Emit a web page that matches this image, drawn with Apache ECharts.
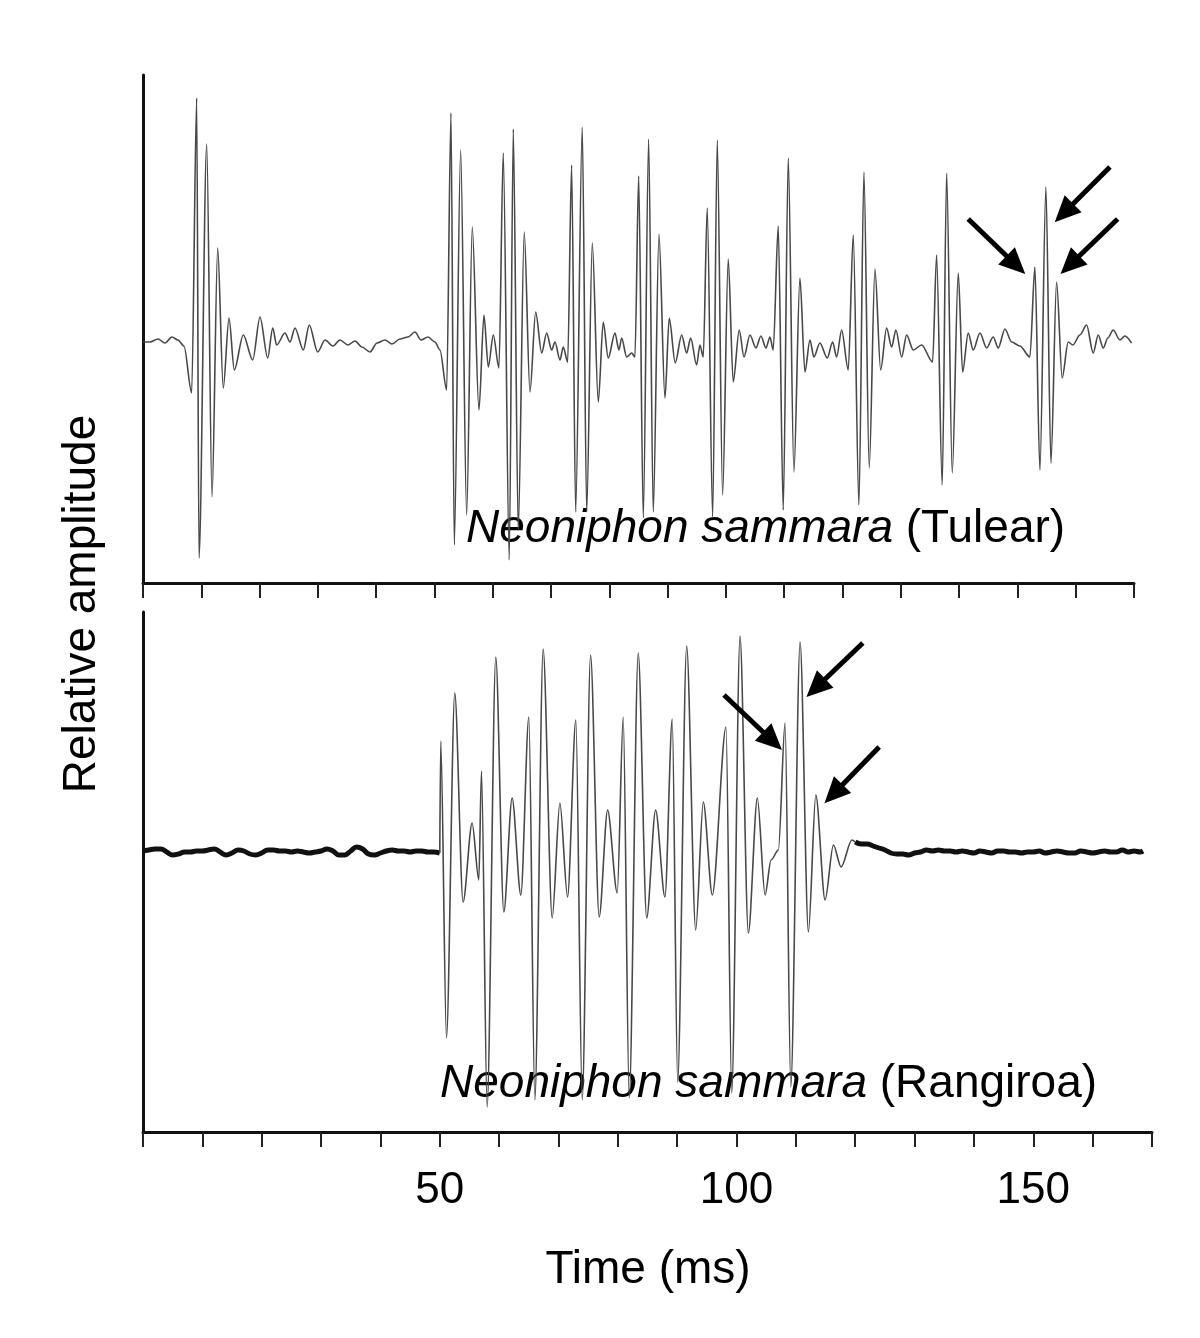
<!DOCTYPE html>
<html>
<head>
<meta charset="utf-8">
<script src="https://cdn.jsdelivr.net/npm/echarts@6/dist/echarts.min.js"></script>
<style>
html,body{margin:0;padding:0;background:#fff;}
#chart{width:1200px;height:1338px;}
</style>
</head>
<body>
<div id="chart"></div>
<script>
// ---------- DATA ----------
// Panel 1: Neoniphon sammara (Tulear) – time (ms) and relative amplitude of waveform extrema
const tulearTime = [0.0,1.2,2.57,3.77,4.97,6.0,7.03,8.35,9.21,9.61,10.93,11.84,12.81,13.77,14.75,15.66,17.2,18.82,20.07,21.39,22.25,22.93,24.36,25.21,26.07,27.5,28.52,29.97,
  31.22,32.59,33.79,35.16,36.36,37.56,38.94,40.14,41.51,42.71,44.08,45.45,46.66,47.68,48.89,50.09,50.94,
  52.09,52.83,53.4,54.49,55.52,56.48,57.63,58.49,59.23,60.09,61.06,
  61.8,62.83,63.52,64.37,65.4,66.38,67.36,68.39,69.25,70.1,70.67,71.53,72.09,72.85,
  73.53,74.22,75.35,76.11,77.07,78.1,78.95,79.81,80.96,81.65,82.11,82.97,83.83,84.39,
  85.03,85.82,86.74,87.53,88.51,89.54,90.27,91.3,92.4,93.26,93.95,94.97,95.54,96.11,
  96.79,97.72,98.51,99.43,100.39,101.25,102.28,103.09,104.12,105.15,106.0,106.86,107.55,108.11,
  108.97,109.83,110.69,111.66,112.69,113.55,114.41,115.09,116.12,117.38,118.3,118.99,119.85,120.98,
  121.84,122.81,123.67,124.58,125.56,126.54,127.56,128.42,129.16,130.14,131.0,132.13,133.57,135.45,
  136.14,137.1,137.86,138.82,139.85,140.6,141.56,142.42,143.57,144.72,145.85,146.71,147.86,149.01,150.43,152.14,
  153.0,153.86,154.89,155.75,156.72,157.68,158.71,159.52,160.72,161.87,163.0,163.86,164.72,165.52,166.43,167.58,168.44,169.59];
const tulearAmp = [-0.01,-0.01,0.02,-0.02,0.04,0.01,-0.05,-0.52,2.43,-2.17,1.97,-1.56,0.93,-0.47,0.23,-0.29,0.06,-0.19,0.24,-0.17,0.13,-0.04,0.08,-0.01,0.13,-0.09,0.16,-0.11,
  0.01,-0.05,0.01,-0.04,0.0,-0.06,-0.11,-0.02,0.01,-0.03,0.02,0.04,0.09,0.01,0.04,-0.01,-0.09,
  -0.49,2.28,-2.04,1.91,-1.74,1.14,-0.69,0.26,-0.26,0.06,-0.27,
  1.88,-2.19,2.12,-1.89,1.09,-0.51,0.29,-0.12,0.08,-0.09,-0.01,-0.19,-0.06,-0.21,
  1.76,-1.71,2.14,-1.71,0.98,-0.61,0.19,-0.17,0.08,-0.09,0.03,-0.16,-0.12,-0.16,
  1.65,-1.77,2.02,-1.71,1.07,-0.57,0.23,-0.22,0.06,-0.12,0.03,-0.24,-0.04,-0.16,
  1.33,-1.76,2.01,-1.54,0.82,-0.41,0.11,-0.16,0.06,-0.07,0.05,-0.07,0.04,-0.09,
  1.15,-1.69,1.83,-1.31,0.63,-0.31,0.01,-0.16,-0.02,-0.17,-0.01,-0.16,0.11,-0.29,
  1.06,-1.64,1.69,-1.27,0.72,-0.29,0.13,-0.06,0.11,-0.16,0.06,-0.09,-0.04,-0.21,
  0.86,-1.44,1.68,-1.32,0.68,-0.31,0.08,-0.09,0.08,-0.07,0.04,-0.07,0.12,-0.01,-0.05,-0.16,
  0.74,-1.29,1.54,-1.22,0.59,-0.37,-0.01,-0.04,0.06,0.16,-0.12,0.06,-0.07,0.03,0.11,0.01,0.05,-0.02];

// Panel 2: Neoniphon sammara (Rangiroa) – background noise before the call
const rangiroaPreTime = [0,1,2,3,4,5,6,7,8,9,10,11,12,13,14,15,16,17,18,19,20,21,22,23,24,25,26,27,28,29,30,31,32,33,34,35,36,37,38,39,40,41,42,43,44,45,46,47,48,49,50];
const rangiroaPreAmp = [0.01,0.02,0.03,0.03,0.0,-0.03,-0.02,0.0,0.0,0.01,0.01,0.02,0.03,0.0,-0.03,-0.01,0.02,0.01,-0.02,-0.03,-0.01,0.02,0.02,0.01,0.01,0.0,0.01,0.0,-0.01,0.0,0.01,0.03,0.01,-0.03,-0.03,0.01,0.05,0.03,-0.02,-0.03,-0.01,0.01,0.02,0.01,0.01,0.0,0.01,0.01,0.0,0.0,-0.01];
// the call itself (extrema)
const rangiroaCallTime = [50.0,50.17,51.13,52.53,53.93,55.45,56.58,57.03,57.98,59.44,60.79,62.19,63.66,65.01,66.02,67.42,68.94,70.24,71.53,72.93,74.0,75.41,76.86,78.28,79.9,80.91,81.92,83.44,84.86,86.37,87.94,89.17,90.08,91.6,93.12,94.4,95.92,98.23,99.19,100.59,101.99,103.51,104.81,105.82,107.05,108.18,109.14,110.71,112.11,113.36,114.92,116.32,117.62,119.43,120.0];
const rangiroaCallAmp = [-0.01,1.11,-1.86,1.59,-0.5,0.29,-0.28,0.81,-2.55,1.95,-0.6,0.54,-0.43,1.35,-2.48,2.03,-0.66,0.49,-0.45,1.32,-2.48,1.97,-0.65,0.42,-0.41,1.35,-2.46,1.99,-0.66,0.42,-0.45,1.33,-2.3,2.06,-0.78,0.5,-0.43,1.25,-2.41,2.16,-0.81,0.54,-0.43,-0.08,0.02,1.29,-2.35,2.1,-0.8,0.57,-0.48,0.07,-0.15,0.12,0.1];
// background noise after the call
const rangiroaPostTime = [120,121,122,123,124,125,126,127,128,129,130,131,132,133,134,135,136,137,138,139,140,141,142,143,144,145,146,147,148,149,150,151,152,153,154,155,156,157,158,159,160,161,162,163,164,165,166,167,168,168.5];
const rangiroaPostAmp = [0.1,0.08,0.08,0.06,0.04,0.02,-0.01,-0.02,-0.02,-0.03,-0.01,0.0,0.02,0.01,0.02,0.01,0.01,0.0,0.01,0.0,-0.01,0.01,0.0,-0.01,0.01,0.01,0.0,0.0,-0.01,0.0,0.0,0.01,-0.01,0.0,0.01,0.0,-0.01,-0.01,0.01,0.0,-0.01,0.0,0.01,0.0,0.0,0.02,0.0,0.01,0.0,0.01];

// Arrows marking the final pulse peaks: [tailTime, tailAmp, tipTime, tipAmp]
const tulearArrows = [[141.56,1.22,149.74,0.76],[165.87,1.74,157.98,1.28],[167.19,1.22,159.0,0.76]];
const rangiroaArrows = [[97.89,1.57,106.07,1.11],[121.28,2.09,113.36,1.64],[124.03,1.05,116.34,0.58]];

// Axis
const timeTicksLabelled = [50,100,150];
const panelLabels = [['Neoniphon sammara','(Tulear)'],['Neoniphon sammara','(Rangiroa)']];
const xTitle = 'Time (ms)';
const yTitle = 'Relative amplitude';

// ---------- CHART ----------
const zip = (t,a) => t.map((v,i)=>[v,a[i]]);
const FONT = "'Liberation Sans', Arial, sans-serif";

function arrowLines(arr){
  return arr.map(r => [{coord:[r[0],r[1]]},{coord:[r[2],r[3]]}]);
}

const chart = echarts.init(document.getElementById('chart'), null, {renderer:'canvas'});

const xAxisCommon = {
  type:'value', min:0, max:170, interval:10,
  axisLine:{show:true, onZero:false, lineStyle:{color:'#111', width:3}},
  axisTick:{show:true, length:15, lineStyle:{color:'#222', width:2}},
  splitLine:{show:false}
};
const yAxisCommon = {
  type:'value',
  axisLine:{show:true, lineStyle:{color:'#111', width:3}},
  axisTick:{show:false}, axisLabel:{show:false}, splitLine:{show:false}
};

const arrowMark = (arr) => ({
  silent:true, animation:false,
  symbol:['none','triangle'], symbolSize:[24,26],
  label:{show:false},
  lineStyle:{color:'#000', width:5, type:'solid'},
  data: arrowLines(arr)
});

const traceStyle = {color:'#484848', width:1.6};
const noiseStyle = {color:'#111', width:5};

chart.setOption({
  animation:false,
  backgroundColor:'#fff',
  grid:[
    {left:143, top:75, width:991, height:508},
    {left:143, top:612, width:1009, height:520}
  ],
  xAxis:[
    Object.assign({gridIndex:0, axisLabel:{show:false}}, xAxisCommon),
    Object.assign({gridIndex:1, axisLabel:{show:true, margin:37, fontSize:44, color:'#000', fontFamily:FONT,
      formatter:v => timeTicksLabelled.includes(v) ? String(v) : ''}}, xAxisCommon)
  ],
  yAxis:[
    Object.assign({gridIndex:0, min:-2.42, max:2.66}, yAxisCommon),
    Object.assign({gridIndex:1, min:-2.8, max:2.4}, yAxisCommon)
  ],
  series:[
    {type:'line', xAxisIndex:0, yAxisIndex:0, data:zip(tulearTime,tulearAmp), showSymbol:false,
     smooth:0.3, smoothMonotone:'x', lineStyle:traceStyle, markLine:arrowMark(tulearArrows)},
    {type:'line', xAxisIndex:1, yAxisIndex:1, data:zip(rangiroaPreTime,rangiroaPreAmp), showSymbol:false,
     smooth:0.4, lineStyle:noiseStyle},
    {type:'line', xAxisIndex:1, yAxisIndex:1, data:zip(rangiroaCallTime,rangiroaCallAmp), showSymbol:false,
     smooth:0.3, smoothMonotone:'x', lineStyle:traceStyle, markLine:arrowMark(rangiroaArrows)},
    {type:'line', xAxisIndex:1, yAxisIndex:1, data:zip(rangiroaPostTime,rangiroaPostAmp), showSymbol:false,
     smooth:0.4, lineStyle:noiseStyle}
  ],
  graphic:[
    {type:'text', left:466, top:506, style:{
      text:'{i|'+panelLabels[0][0]+'} {n|'+panelLabels[0][1]+'}',
      rich:{i:{fontStyle:'italic', fontSize:46, fontFamily:FONT, fill:'#000'}, n:{fontSize:46, fontFamily:FONT, fill:'#000'}},
      font:'46px '+FONT}},
    {type:'text', left:440, top:1061, style:{
      text:'{i|'+panelLabels[1][0]+'} {n|'+panelLabels[1][1]+'}',
      rich:{i:{fontStyle:'italic', fontSize:46, fontFamily:FONT, fill:'#000'}, n:{fontSize:46, fontFamily:FONT, fill:'#000'}},
      font:'46px '+FONT}},
    {type:'text', x:648, y:1270, style:{text:xTitle, fontSize:46, fontFamily:FONT, fill:'#000', align:'center', verticalAlign:'middle'}},
    {type:'text', x:82, y:604, rotation:Math.PI/2, style:{text:yTitle, fontSize:46, fontFamily:FONT, fill:'#000', align:'center', verticalAlign:'middle'}}
  ]
});
</script>
</body>
</html>
